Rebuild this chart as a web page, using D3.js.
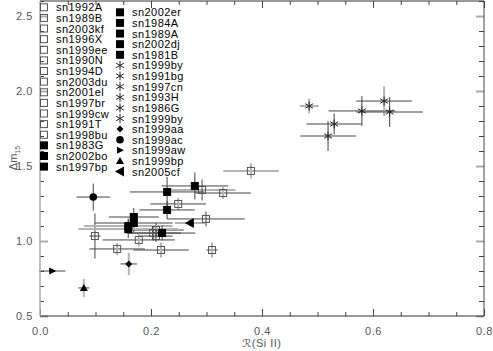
<!DOCTYPE html>
<html>
<head>
<meta charset="utf-8">
<script src="https://cdn.jsdelivr.net/npm/d3@7"></script>
<style>
  body { margin: 0; background: #fff; }
  svg { font-family: "Liberation Sans", Arial, sans-serif; }
</style>
</head>
<body>
<svg width="493" height="351"></svg>
<script>
// supernova names, in legend order (first column then second)
const names = ["sn1992A","sn1989B","sn2003kf","sn1996X","sn1999ee","sn1990N","sn1994D","sn2003du",
  "sn2001el","sn1997br","sn1999cw","sn1991T","sn1998bu","sn1983G","sn2002bo","sn1997bp",
  "sn2002er","sn1984A","sn1989A","sn2002dj","sn1981B","sn1999by","sn1991bg","sn1997cn",
  "sn1993H","sn1986G","sn1999by","sn1999aa","sn1999ac","sn1999aw","sn1999bp","sn2005cf"];
const kinds = ["open","open","open","open","open","open","open","open",
  "open","open","open","open","open","filled","filled","filled",
  "filled","filled","filled","filled","filled","star","star","star",
  "star","star","star","diamond","circle","right","up","left"];
const rSi = [0.380,0.330,0.292,0.299,0.310,0.249,0.209,0.209,
  0.178,0.139,0.218,0.099,0.204,0.279,0.229,0.229,
  0.169,0.169,0.159,0.159,0.220,0.485,0.530,0.580,
  0.620,0.630,0.519,0.160,0.096,0.022,0.079,0.270];
const dm15 = [1.467,1.320,1.340,1.147,0.940,1.247,1.073,1.033,
  1.007,0.947,0.940,1.033,1.053,1.367,1.327,1.207,
  1.160,1.120,1.100,1.080,1.053,1.900,1.780,1.867,
  1.933,1.860,1.700,0.847,1.293,0.800,0.687,1.120];
const rSiErr = [0.050,0.050,0.060,0.070,0.010,0.050,0.050,0.030,
  0.065,0.050,0.050,0.010,0.050,0.060,0.067,0.050,
  0.045,0.070,0.080,0.090,0.060,0.017,0.050,0.060,
  0.050,0.060,0.050,0.015,0.030,0.024,0.010,0.027];
const dm15Err = [0.050,0.040,0.070,0.050,0.050,0.040,0.050,0.040,
  0.040,0.040,0.050,0.150,0.050,0.090,0.100,0.060,
  0.060,0.060,0.050,0.060,0.050,0.050,0.070,0.100,
  0.100,0.100,0.100,0.075,0.090,0.010,0.060,0.020];
const xTicks = [0.0,0.2,0.4,0.6,0.8];
const yTicks = [0.5,1.0,1.5,2.0,2.5];

// which error bars are drawn in light grey (by point index)
const greyX = new Set([0,2,18,19,21,31]);
const greyY = new Set([0,1,4,5,8,9,10,21,24,27,30]);

const svg = d3.select("svg");
const x = d3.scaleLinear().domain([0, 0.8]).range([40, 484]);
const y = d3.scaleLinear().domain([0.5, 2.6]).range([316, 1]);

const pts = names.map((n, i) => ({name: n, kind: kinds[i], x: rSi[i], y: dm15[i], ex: rSiErr[i], ey: dm15Err[i], i}));

// error bars
const eb = svg.append("g");
pts.forEach(d => {
  eb.append("line")
    .attr("x1", x(d.x - d.ex)).attr("x2", x(d.x + d.ex))
    .attr("y1", y(d.y)).attr("y2", y(d.y))
    .attr("stroke", greyX.has(d.i) ? "#b4b4b4" : "#444")
    .attr("stroke-width", greyX.has(d.i) ? 2 : 1);
  eb.append("line")
    .attr("x1", x(d.x)).attr("x2", x(d.x))
    .attr("y1", y(d.y - d.ey)).attr("y2", y(d.y + d.ey))
    .attr("stroke", greyY.has(d.i) ? "#b4b4b4" : "#444")
    .attr("stroke-width", greyY.has(d.i) ? 2 : 1);
});

function marker(g, kind) {
  if (kind === "open") {
    g.append("rect").attr("x", -3.5).attr("y", -3.5).attr("width", 7).attr("height", 7)
      .attr("fill", "none").attr("stroke", "#555").attr("stroke-width", 1);
  } else if (kind === "filled") {
    g.append("rect").attr("x", -4).attr("y", -4).attr("width", 8).attr("height", 8).attr("fill", "#000");
  } else if (kind === "star") {
    [90, 30, -30].forEach(a => {
      const r = 4.5, c = Math.cos(a * Math.PI / 180) * r, s = Math.sin(a * Math.PI / 180) * r;
      g.append("line").attr("x1", -c).attr("y1", -s).attr("x2", c).attr("y2", s)
        .attr("stroke", "#222").attr("stroke-width", 1);
    });
  } else if (kind === "diamond") {
    g.append("path").attr("d", "M0,-3.5L3.5,0L0,3.5L-3.5,0Z").attr("fill", "#000");
  } else if (kind === "circle") {
    g.append("circle").attr("r", 3.8).attr("fill", "#000");
  } else if (kind === "right") {
    g.append("path").attr("d", "M-3,-3.5L4,0L-3,3.5Z").attr("fill", "#000");
  } else if (kind === "up") {
    g.append("path").attr("d", "M0,-4L4,3L-4,3Z").attr("fill", "#000");
  } else if (kind === "left") {
    g.append("path").attr("d", "M-5,0L4,-5L4,5Z").attr("fill", "#000");
  }
}

svg.append("g").selectAll("g").data(pts).join("g")
  .attr("transform", d => `translate(${x(d.x)},${y(d.y)})`)
  .each(function(d) { marker(d3.select(this), d.kind); });

// axes: ticks point inward, on all four sides
const xMinor = d3.range(0, 0.8001, 0.05);
const yMinor = d3.range(0.5, 2.6001, 0.1);
function styleAxis(g) {
  g.select(".domain").remove();
  g.selectAll("line").attr("stroke", "#444");
  g.selectAll("text").attr("fill", "#555").attr("font-size", 11).attr("letter-spacing", 0.6);
}
svg.append("g").attr("transform", "translate(0,316)")
  .call(d3.axisBottom(x).tickValues(xMinor).tickSize(-4).tickFormat("")).call(styleAxis);
svg.append("g").attr("transform", "translate(0,316)")
  .call(d3.axisBottom(x).tickValues(xTicks).tickSize(-7).tickPadding(11).tickFormat(d3.format(".1f"))).call(styleAxis);
svg.append("g").attr("transform", "translate(0,1)")
  .call(d3.axisTop(x).tickValues(xMinor).tickSize(-4).tickFormat("")).call(styleAxis);
svg.append("g").attr("transform", "translate(0,1)")
  .call(d3.axisTop(x).tickValues(xTicks).tickSize(-7).tickFormat("")).call(styleAxis);
svg.append("g").attr("transform", "translate(40,0)")
  .call(d3.axisLeft(y).tickValues(yMinor).tickSize(-4).tickFormat("")).call(styleAxis);
svg.append("g").attr("transform", "translate(40,0)")
  .call(d3.axisLeft(y).tickValues(yTicks).tickSize(-8).tickPadding(7).tickFormat(d3.format(".1f"))).call(styleAxis)
  .selectAll("line").attr("stroke", "#aaa").attr("stroke-width", 2);
svg.append("g").attr("transform", "translate(484,0)")
  .call(d3.axisRight(y).tickValues(yMinor).tickSize(-5).tickFormat("")).call(styleAxis);
svg.append("g").attr("transform", "translate(484,0)")
  .call(d3.axisRight(y).tickValues(yTicks).tickSize(-8).tickFormat("")).call(styleAxis)
  .selectAll("line").attr("stroke", "#aaa").attr("stroke-width", 2);

// frame
svg.append("line").attr("x1", 40).attr("x2", 484).attr("y1", 316).attr("y2", 316).attr("stroke", "#333");
svg.append("line").attr("x1", 40).attr("x2", 484).attr("y1", 1).attr("y2", 1).attr("stroke", "#333");
svg.append("line").attr("x1", 40).attr("x2", 40).attr("y1", 1).attr("y2", 316).attr("stroke", "#aaa").attr("stroke-width", 1.5);
svg.append("line").attr("x1", 484).attr("x2", 484).attr("y1", 1).attr("y2", 316).attr("stroke", "#444");

// axis titles
svg.append("text").attr("x", 262).attr("y", 347).attr("text-anchor", "middle")
  .attr("font-size", 11).attr("fill", "#555").attr("letter-spacing", 0.5)
  .html('<tspan font-family="DejaVu Sans" font-style="italic">ℛ</tspan>(Si II)');
svg.append("text").attr("transform", "translate(17,158) rotate(-90)").attr("text-anchor", "middle")
  .attr("font-size", 11).attr("fill", "#555")
  .html('Δm<tspan font-size="7" dy="3">15</tspan>');

// legend
const leg = svg.append("g");
pts.forEach((d, k) => {
  const col = k < 16 ? 0 : 1;
  const row = k % 16;
  const mx = col ? 120 : 44;
  const my = (col ? 12.3 : 7.3) + row * 10.62;
  const g = leg.append("g").attr("transform", `translate(${mx},${my})`);
  marker(g, d.kind);
  leg.append("text").attr("x", mx + 12).attr("y", my + 4)
    .attr("font-size", 11).attr("letter-spacing", 0.45).attr("fill", "#000").text(d.name);
});
</script>
</body>
</html>
